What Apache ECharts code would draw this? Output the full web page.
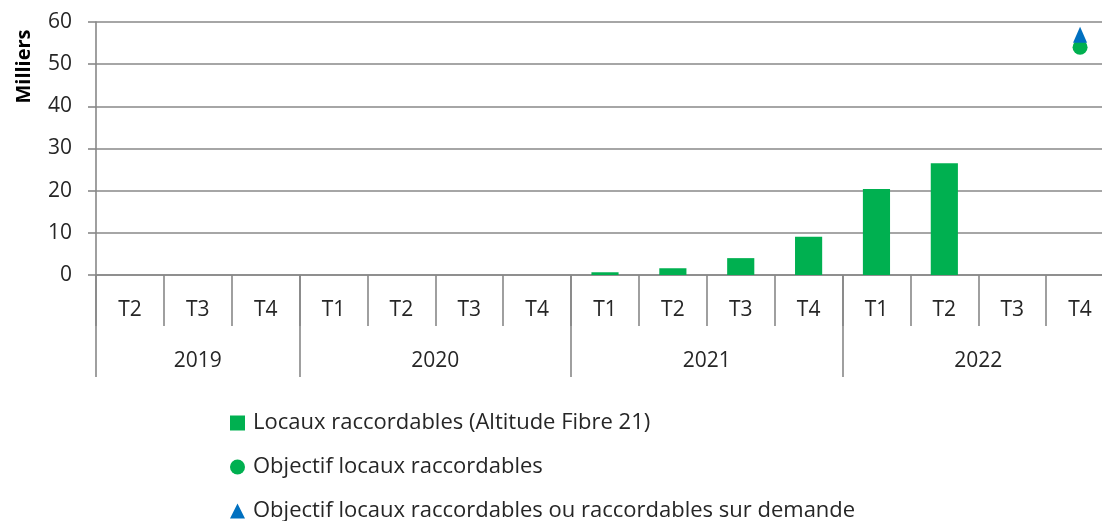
<!DOCTYPE html>
<html>
<head>
<meta charset="utf-8">
<script src="https://cdn.jsdelivr.net/npm/echarts@6/dist/echarts.min.js"></script>
<style>
  html, body { margin: 0; padding: 0; background: #fff; }
  #chart { width: 1102px; height: 521px; }
</style>
</head>
<body>
<div id="chart"></div>
<script>
// quarters (2019 T2 .. 2022 T4)
const quarters = ['T2', 'T3', 'T4', 'T1', 'T2', 'T3', 'T4', 'T1', 'T2', 'T3', 'T4', 'T1', 'T2', 'T3', 'T4']
const years = ['2019', '2020', '2021', '2022']
// year span in quarters
const yearSpans = [3, 4, 4, 4]

// values in thousands
const locaux = [null, null, null, null, null, null, null, 0.65, 1.6, 4.0, 9.1, 20.4, 26.5, null, null]
const objectif = [null, null, null, null, null, null, null, null, null, null, null, null, null, null, 54]
const objectifDemande = [null, null, null, null, null, null, null, null, null, null, null, null, null, null, 57]

const yTicks = [0, 10, 20, 30, 40, 50, 60]

const GRAY = '#888888'
const TEXT = '#262626'
const FONT = 'Open Sans'

// year axis: half-quarter points so labels sit in the middle of each year span
const yearPoints = new Array(quarters.length * 2 + 1).fill('')
const yearBounds = [0]
let pos = 0
years.forEach((y, i) => {
  yearPoints[pos + yearSpans[i]] = y
  pos += yearSpans[i] * 2
  yearBounds.push(pos)
})

const chart = echarts.init(document.getElementById('chart'))

chart.setOption({
  animation: false,
  textStyle: { fontFamily: FONT },
  grid: { left: 96, top: 22, bottom: 246, width: 1018, outerBoundsMode: 'none' },
  legend: {
    orient: 'vertical',
    left: 230,
    top: 412,
    height: 140,
    padding: 0,
    itemGap: 22,
    itemWidth: 15,
    itemHeight: 15,
    textStyle: { fontSize: 22, color: TEXT, lineHeight: 20, padding: [0, 0, 0, 3], fontFamily: FONT },
    data: [
      { name: 'Locaux raccordables (Altitude Fibre 21)', icon: 'path://M1,1L14,1L14,14L1,14Z' },
      { name: 'Objectif locaux raccordables', icon: 'circle' },
      { name: 'Objectif locaux raccordables ou raccordables sur demande', icon: 'path://M7.5,1L14,14L1,14Z' }
    ]
  },
  xAxis: [
    {
      type: 'category',
      data: quarters,
      position: 'bottom',
      axisLine: { lineStyle: { color: GRAY, width: 1.6 } },
      axisTick: { show: true, interval: 0, length: 51, lineStyle: { color: GRAY, width: 1.6 } },
      axisLabel: { interval: 0, margin: 25, fontSize: 21, color: TEXT }
    },
    {
      type: 'category',
      data: yearPoints,
      boundaryGap: false,
      position: 'bottom',
      axisLine: { show: false },
      axisTick: {
        show: true,
        length: 102,
        interval: (idx) => yearBounds.includes(idx),
        lineStyle: { color: GRAY, width: 1.6 }
      },
      axisLabel: { interval: 0, margin: 76, fontSize: 21, color: TEXT }
    }
  ],
  yAxis: {
    type: 'value',
    min: yTicks[0],
    max: yTicks[yTicks.length - 1],
    interval: 10,
    name: 'Milliers',
    nameLocation: 'middle',
    nameGap: 62,
    nameTextStyle: { fontSize: 20, fontWeight: 'bold', color: '#000', padding: [0, 0, 0, 164] },
    axisLine: { show: true, lineStyle: { color: GRAY, width: 1.6 } },
    axisTick: { show: true, length: 8, lineStyle: { color: GRAY, width: 1.6 } },
    axisLabel: { margin: 24, fontSize: 21, color: TEXT },
    splitLine: { lineStyle: { color: GRAY, width: 1.6 } }
  },
  series: [
    {
      name: 'Locaux raccordables (Altitude Fibre 21)',
      type: 'bar',
      data: locaux,
      barWidth: '40%',
      itemStyle: { color: '#00B050' }
    },
    {
      name: 'Objectif locaux raccordables',
      type: 'scatter',
      data: objectif,
      symbol: 'circle',
      symbolSize: 15,
      itemStyle: { color: '#00B050', opacity: 1 },
      z: 3
    },
    {
      name: 'Objectif locaux raccordables ou raccordables sur demande',
      type: 'scatter',
      data: objectifDemande,
      symbol: 'triangle',
      symbolSize: [14, 16],
      itemStyle: { color: '#0070C0', opacity: 1 },
      z: 4
    }
  ]
})
</script>
</body>
</html>
